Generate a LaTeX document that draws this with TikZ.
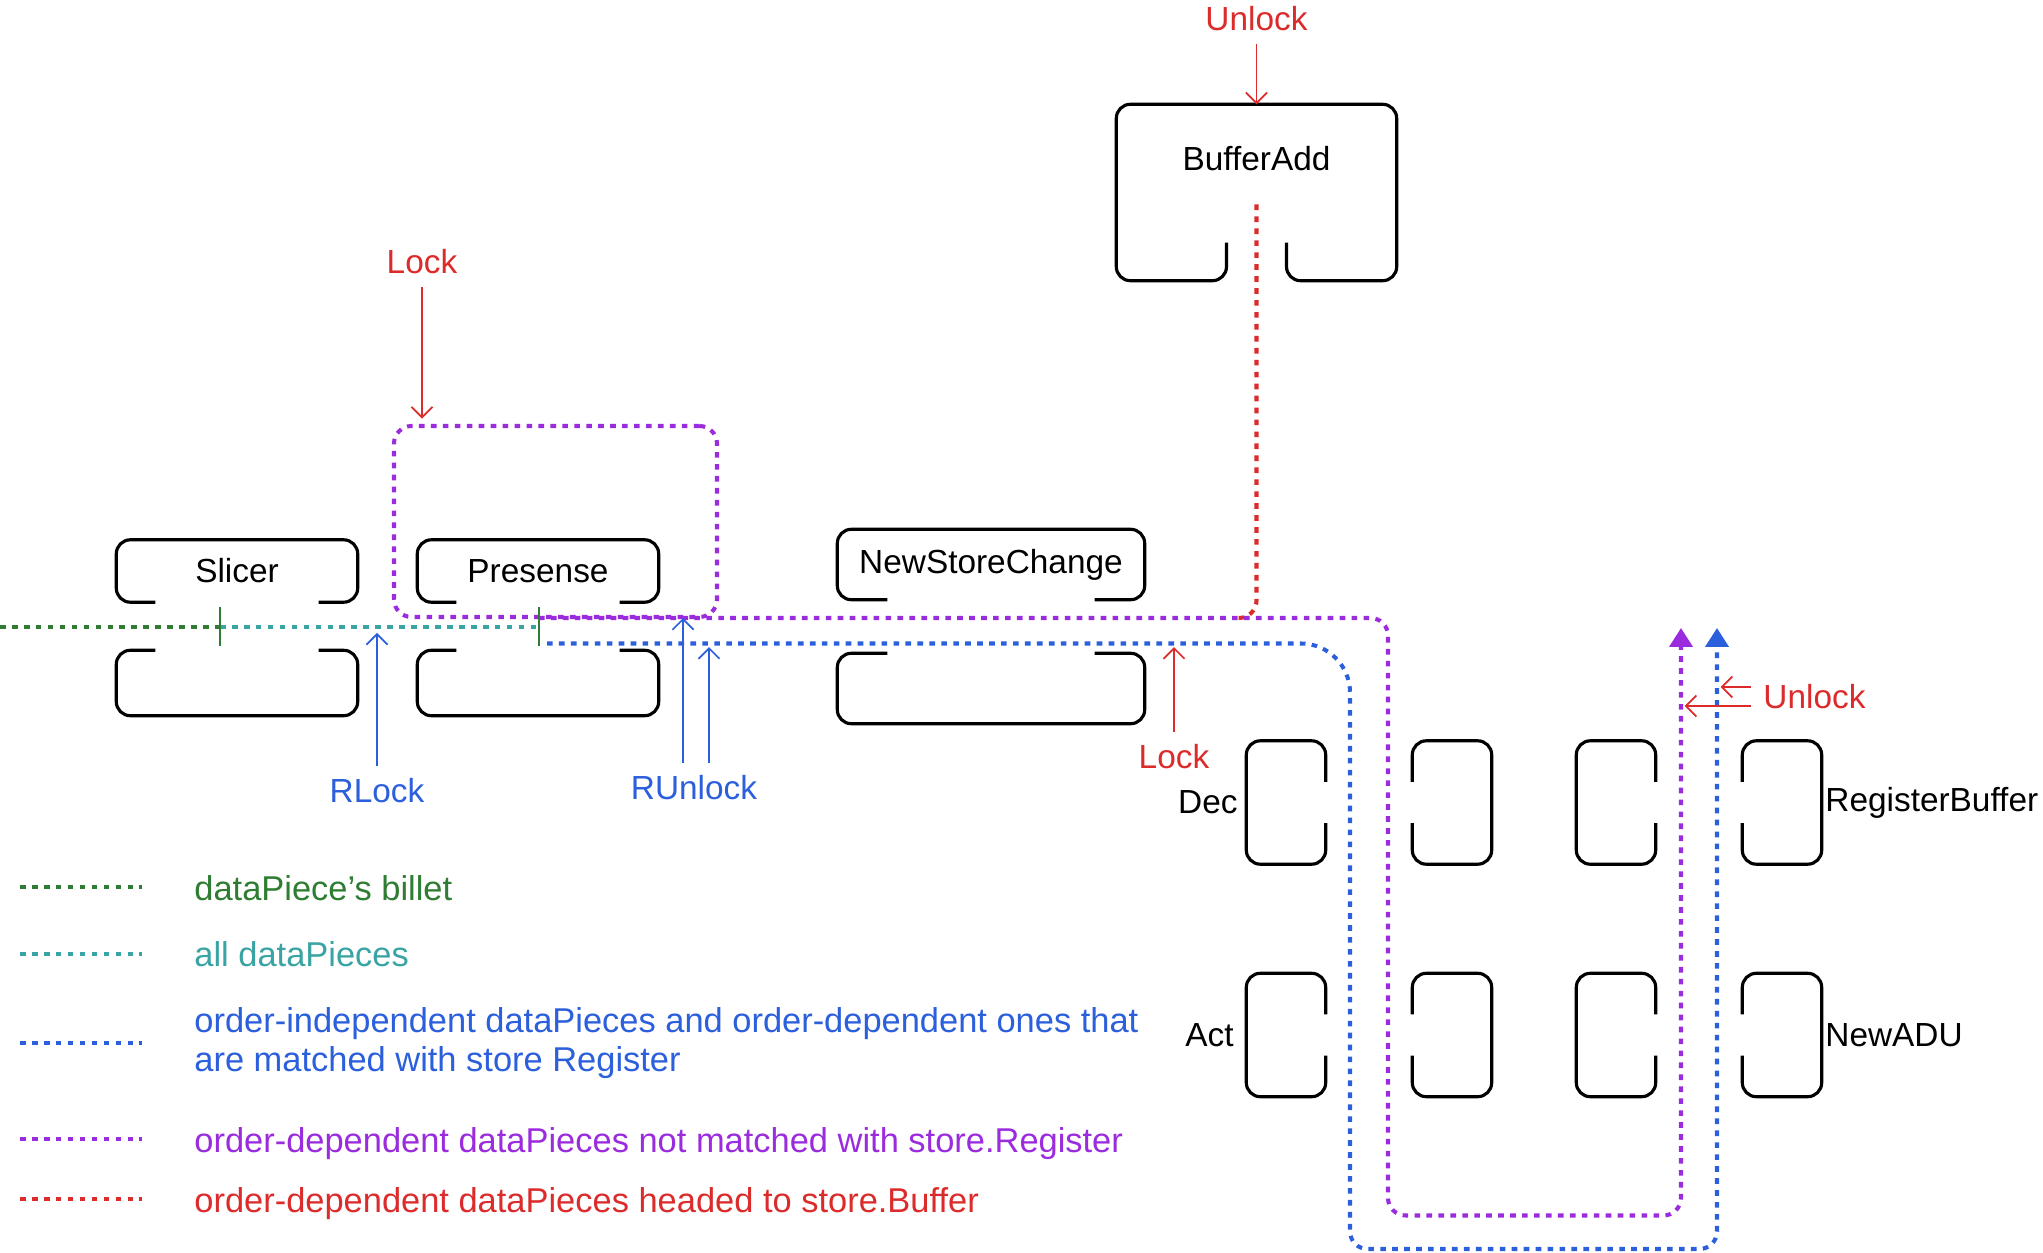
\documentclass[tikz,border=0pt]{standalone}
\usepackage{fontspec}
\setmainfont{Liberation Sans}
\usetikzlibrary{arrows.meta,positioning}
\definecolor{cGreen}{HTML}{2E7D32}
\definecolor{cTeal}{HTML}{3AA3A3}
\definecolor{cBlue}{HTML}{2B5FDB}
\definecolor{cPurple}{HTML}{9B2CDD}
\definecolor{cRed}{HTML}{DC2B2B}

\begin{document}
\begin{tikzpicture}[
   font=\fontsize{9.5pt}{11.1pt}\selectfont,
   hole/.style={inner sep=0pt, minimum width=2.40cm},
   rim/.style={draw=black, line width=0.9pt, rounded corners=4pt},
   cup/.style={inner sep=0pt, minimum width=0.78cm, minimum height=1.22cm},
   flow/.style={line width=1.15pt, dash pattern=on 1.6pt off 1.8pt},
   sig/.style={-{Straight Barb[length=3pt,width=6pt]}, line width=0.5pt},
   tip/.style={-{Triangle[length=0.19cm,width=0.23cm]}},
   tick/.style={cGreen, line width=0.8pt},
   key/.style={font=\fontsize{9.8pt}{11.1pt}\selectfont}]
  \useasboundingbox (0,0) rectangle (20.43,12.52);

  % upper halves
  \node[hole, minimum height=0.61cm] (slicer)   at (2.37,6.81) {Slicer};
  \node[hole, minimum height=0.61cm] (presense) at (5.38,6.81) {Presense};
  \node[hole, minimum width=3.06cm, minimum height=0.69cm] (nsc) at (9.91,6.875) {NewStoreChange};
  % lower halves
  \node[hole, minimum height=0.64cm] (slicerB)   at (2.37,5.69) {};
  \node[hole, minimum height=0.64cm] (presenseB) at (5.38,5.69) {};
  \node[hole, minimum width=3.06cm, minimum height=0.69cm] (nscB) at (9.91,5.635) {};
  \foreach \n/\g in {slicer/0.39, presense/0.39, nsc/0.5}
    \draw[rim] ([xshift=\g cm]\n.south west) -- (\n.south west) -- (\n.north west)
      -- (\n.north east) -- (\n.south east) -- ([xshift=-\g cm]\n.south east);
  \foreach \n/\g in {slicerB/0.39, presenseB/0.39, nscB/0.5}
    \draw[rim] ([xshift=\g cm]\n.north west) -- (\n.north west) -- (\n.south west)
      -- (\n.south east) -- (\n.north east) -- ([xshift=-\g cm]\n.north east);

  % buffer
  \node[hole, minimum width=2.79cm, minimum height=1.75cm] (ba) at (12.565,10.595) {};
  \node (batxt) at (12.565,10.93) {BufferAdd};
  \draw[rim] ([xshift=-0.3cm,yshift=0.38cm]ba.south) -- ([xshift=-0.3cm]ba.south) -- (ba.south west)
    -- (ba.north west) -- (ba.north east) -- (ba.south east) -- ([xshift=0.3cm]ba.south)
    -- ([xshift=0.3cm,yshift=0.38cm]ba.south);

  % locked region
  \node[draw=cPurple, flow, rounded corners=5pt, minimum width=3.23cm, minimum height=1.91cm] (lk) at (5.555,7.305) {};

  % right-hand cups
  \foreach \r/\y in {dec/4.495, act/2.17}
    \foreach \i/\x in {1/12.86, 2/14.52, 3/16.16, 4/17.82}
      \node[cup] (\r\i) at (\x,\y) {};
  \foreach \n in {dec1, dec3, act1, act3}
    \draw[rim] ([yshift=-0.41cm]\n.north east) -- (\n.north east) -- (\n.north west)
      -- (\n.south west) -- (\n.south east) -- ([yshift=0.41cm]\n.south east);
  \foreach \n in {dec2, dec4, act2, act4}
    \draw[rim] ([yshift=-0.41cm]\n.north west) -- (\n.north west) -- (\n.north east)
      -- (\n.south east) -- (\n.south west) -- ([yshift=0.41cm]\n.south west);
  \node[left=0.08cm of dec1, inner sep=0pt] (decL) {Dec};
  \node[left=0.12cm of act1, inner sep=0pt] (actL) {Act};
  \node[right=0.03cm of dec4, inner sep=0pt] (regL) {RegisterBuffer};
  \node[right=0.03cm of act4, inner sep=0pt] (aduL) {NewADU};

  % data flows
  \coordinate (src)  at (0,6.25);
  \coordinate (tk1)  at (2.20,6.25);
  \coordinate (tk2)  at (5.39,6.25);
  \coordinate (pEnd) at (16.81,6.24);
  \coordinate (bEnd) at (17.17,6.24);
  \coordinate (rEnd) at (12.38,6.34);
  \draw[flow,cGreen] (src) -- (tk1);
  \draw[flow,cTeal] (tk1) -- (tk2);
  \draw[flow,cRed,rounded corners=5pt] ([yshift=-0.12cm]ba.center) |- (rEnd);
  \draw[flow,cPurple,tip,rounded corners=5pt] ([yshift=0.09cm]tk2) -| (13.88,0.365) -| (pEnd);
  \draw[flow,cBlue,tip] ([xshift=0.08cm,yshift=-0.165cm]tk2) [rounded corners=14pt] -| (13.50,3)
    [rounded corners=5pt] |- (15,0.03) -| (bEnd);
  \foreach \t in {tk1,tk2}
    \draw[tick] ([yshift=0.2cm]\t) -- ([yshift=-0.19cm]\t);

  % lock signals
  \node[text=cRed] (unlockA) at (12.565,12.33) {Unlock};
  \draw[sig,cRed] (unlockA) -- (ba.north);
  \node[text=cRed] (lockA) at (4.22,9.90) {Lock};
  \draw[sig,cRed,shorten >=1.5pt] (lockA) -- (lockA |- lk.north);
  \node[text=cBlue] (rlock) at (3.77,4.61) {RLock};
  \draw[sig,cBlue,shorten >=1.7pt] (rlock) -- (rlock |- tk1);
  \node[text=cBlue] (runlock) at (6.94,4.64) {RUnlock};
  \coordinate (ruP) at (6.83,6.34);
  \coordinate (ruB) at (7.09,6.085);
  \draw[sig,cBlue] (runlock.north -| ruP) -- (ruP);
  \draw[sig,cBlue,shorten >=1pt] (runlock.north -| ruB) -- (ruB);
  \node[text=cRed] (lockB) at (11.74,4.95) {Lock};
  \draw[sig,cRed,shorten >=1pt] (lockB) -- (lockB |- ruB);
  \node[text=cRed, anchor=west] (unlockB) at (17.51,5.55) {Unlock};
  \coordinate (uB) at ([yshift=0.1cm]unlockB.west);
  \coordinate (uP) at ([yshift=-0.09cm]unlockB.west);
  \draw[sig,cRed,shorten >=1pt] (uB) -- (uB -| bEnd);
  \draw[sig,cRed,shorten >=1pt] (uP) -- (uP -| pEnd);

  % legend
  \foreach \c/\y/\t in {cGreen/3.52/{dataPiece’s billet}, cTeal/2.85/{all dataPieces},
      cPurple/1.00/{order-dependent dataPieces not matched with store.Register},
      cRed/0.40/{order-dependent dataPieces headed to store.Buffer}} {
    \node[key, text=\c, anchor=base west] (lg\c) at (1.82,\y) {\t};
    \draw[flow,\c] (0.20,\y+0.13) -- (1.42,\y+0.13);
  }
  \node[key, text=cBlue, anchor=west, align=left] (lgcBlue) at (1.82,2.09)
    {order-independent dataPieces and order-dependent ones that\\are matched with store Register};
  \draw[flow,cBlue] (0.20,2.09) -- (1.42,2.09);
\end{tikzpicture}
\end{document}
